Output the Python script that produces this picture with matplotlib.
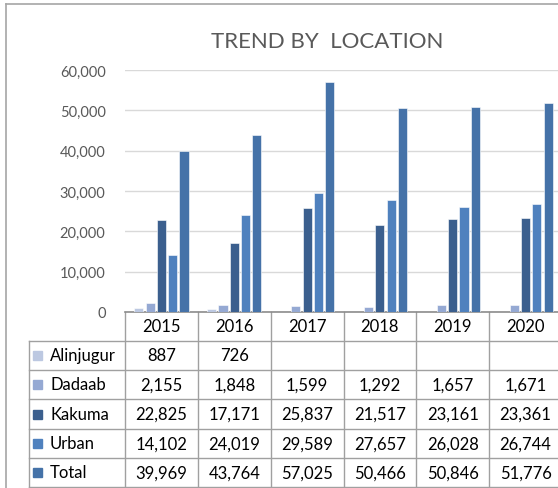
import matplotlib.pyplot as plt
import matplotlib.transforms as mtransforms
import numpy as np

years = ["2015", "2016", "2017", "2018", "2019", "2020"]
series = ["Alinjugur", "Dadaab", "Kakuma", "Urban", "Total"]
alinjugur = [887, 726, None, None, None, None]
dadaab = [2155, 1848, 1599, 1292, 1657, 1671]
kakuma = [22825, 17171, 25837, 21517, 23161, 23361]
urban = [14102, 24019, 29589, 27657, 26028, 26744]
total = [39969, 43764, 57025, 50466, 50846, 51776]
values = [alinjugur, dadaab, kakuma, urban, total]
colors = ["#BCC8E1", "#95A9D3", "#3B5F8E", "#4F81BE", "#4572A8"]

plt.rcParams['font.family'] = ['Lato', 'DejaVu Sans']

W, H = 558, 489
fig = plt.figure(figsize=(W / 100, H / 100), dpi=100)

# plot area in pixels (runs slightly past the right edge, like the source)
left, right, top, bottom = 125, 562, 71, 313
ax = fig.add_axes([left / W, 1 - bottom / H, (right - left) / W, (bottom - top) / H])

x = np.arange(len(years))
step = 0.155
width = 0.125
for k, (name, vals) in enumerate(zip(series, values)):
    v = [np.nan if a is None else a for a in vals]
    ax.bar(x + (k - 2) * step, v, width, color=colors[k], edgecolor="white",
           linewidth=0.4, zorder=3, label=name)

ax.set_xlim(-0.5, len(years) - 0.5)
ax.set_ylim(0, 60000)
ax.set_yticks(range(0, 60001, 10000))
ax.set_yticklabels([f"{t:,}" for t in range(0, 60001, 10000)], fontsize=10.5, color="#595959")
ax.tick_params(axis="y", length=0, pad=14)
ax.set_xticks([])
ax.grid(axis="y", color="#D9D9D9", linewidth=1, zorder=0)
for s in ["top", "right", "left"]:
    ax.spines[s].set_visible(False)
ax.spines["bottom"].set_color("#8C8C8C")
ax.spines["bottom"].set_linewidth(1.2)

fig.text(327 / W, 1 - 42 / H, "TREND BY  LOCATION", ha="center", va="center",
         fontsize=16, color="#595959")

# chart frame
fig.add_artist(plt.Line2D([6 / W, 6 / W], [0, 1 - 5 / H], color="#A6A6A6", lw=1.2))
fig.add_artist(plt.Line2D([6 / W, 1], [1 - 5 / H, 1 - 5 / H], color="#A6A6A6", lw=1.2))

# data table
trans = mtransforms.blended_transform_factory(ax.transData, fig.transFigure)
rows_px = [313, 342, 371, 400, 430, 459, 488]
line_c = "#A0A0A0"
lab_left = 29 / W

def fy(p):
    return 1 - p / H

# horizontal lines
for i, p in enumerate(rows_px):
    if i == 0:
        continue
    fig.add_artist(plt.Line2D([lab_left, 1], [fy(p), fy(p)], color=line_c, lw=1))
# vertical lines
for b in np.arange(-0.5, len(years), 1.0):
    ax.plot([b, b], [fy(rows_px[0]), fy(rows_px[-1])], transform=trans,
            color=line_c, lw=1, clip_on=False)
fig.add_artist(plt.Line2D([lab_left, lab_left], [fy(rows_px[1]), fy(rows_px[-1])], color=line_c, lw=1))

for j, yr in enumerate(years):
    ax.text(j, fy((rows_px[0] + rows_px[1]) / 2), yr, transform=trans,
            ha="center", va="center", fontsize=12, color="#000000")

for k, (name, vals) in enumerate(zip(series, values)):
    yc = fy((rows_px[k + 1] + rows_px[k + 2]) / 2)
    fig.patches.append(plt.Rectangle((33 / W, yc - 4.5 / H), 9 / W, 9 / H,
                                     transform=fig.transFigure, color=colors[k], figure=fig))
    fig.text(50 / W, yc, name, ha="left", va="center", fontsize=12, color="#000000")
    for j, v in enumerate(vals):
        if v is not None:
            ax.text(j, yc, f"{v:,}", transform=trans, ha="center", va="center",
                    fontsize=12, color="#000000")

fig.savefig("out.png", dpi=100)
